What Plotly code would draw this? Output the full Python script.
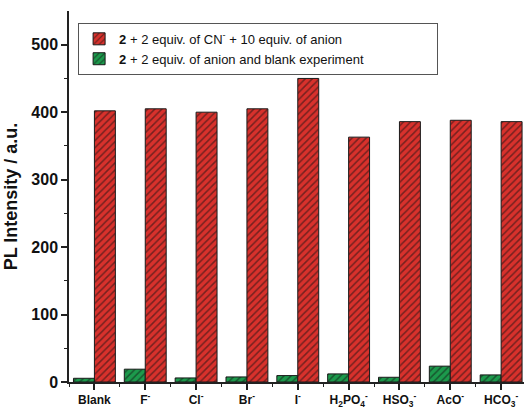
import plotly.graph_objects as go

# Anion labels along the x axis
anions = ["Blank", "F<sup>-</sup>", "Cl<sup>-</sup>", "Br<sup>-</sup>", "I<sup>-</sup>",
          "H<sub>2</sub>PO<sub>4</sub><sup>-</sup>", "HSO<sub>3</sub><sup>-</sup>",
          "AcO<sup>-</sup>", "HCO<sub>3</sub><sup>-</sup>"]

# PL intensity (a.u.)
anion_only = [5.5, 19, 6, 7.5, 9.5, 12, 7, 23.5, 10.5]
cn_plus_anion = [402, 405, 400, 405, 450, 363, 386, 388, 386]

y_ticks = [0, 100, 200, 300, 400, 500]

xpos = list(range(len(anions)))

RED = "#d8312c"
GREEN = "#1c9a4c"

fig = go.Figure()
fig.add_trace(go.Bar(
    x=xpos, y=anion_only,
    name="<b>2</b> + 2 equiv. of anion and blank experiment",
    marker=dict(color=GREEN, line=dict(color="#1a1a1a", width=1),
                pattern=dict(shape="/", fgcolor="#111111", bgcolor=GREEN,
                             size=5, solidity=0.3, fillmode="overlay")),
))
fig.add_trace(go.Bar(
    x=xpos, y=cn_plus_anion,
    name="<b>2</b> + 2 equiv. of CN<sup>-</sup> + 10 equiv. of anion",
    marker=dict(color=RED, line=dict(color="#1a1a1a", width=1),
                pattern=dict(shape="/", fgcolor="#111111", bgcolor=RED,
                             size=5, solidity=0.3, fillmode="overlay")),
))

fig.update_layout(
    width=524, height=410,
    margin=dict(l=69, r=0, t=11, b=28),
    paper_bgcolor="white", plot_bgcolor="white",
    barmode="group", bargap=0.176, bargroupgap=0,
    font=dict(family="Liberation Sans, Arial, sans-serif", color="#111111"),
    legend=dict(
        x=0.02, y=0.968, xanchor="left", yanchor="top",
        orientation="h", traceorder="reversed",
        entrywidth=313, entrywidthmode="pixels",
        bordercolor="#555555", borderwidth=1, bgcolor="white",
        font=dict(size=13, color="#111111"),
        itemwidth=30,
    ),
    xaxis=dict(
        range=[-0.5, 8.45],
        tickmode="array", tickvals=xpos, ticktext=[f"<b>{a}</b>" for a in anions],
        tickfont=dict(size=12, color="#111111"),
        ticks="outside", ticklen=6, tickwidth=1.5, tickcolor="#222222",
        minor=dict(tickmode="array", tickvals=[i - 0.5 for i in xpos] + [8.5],
                   ticks="outside", ticklen=3, tickwidth=1.2, tickcolor="#222222"),
        showline=True, linecolor="#222222", linewidth=1.5,
        showgrid=False, zeroline=False,
    ),
    yaxis=dict(
        range=[0, 550],
        tickmode="array", tickvals=y_ticks, ticktext=[f"<b>{v}</b>" for v in y_ticks],
        tickfont=dict(size=16, color="#111111"),
        ticks="outside", ticklen=6, tickwidth=1.5, tickcolor="#222222",
        minor=dict(tickmode="array", tickvals=[50, 150, 250, 350, 450],
                   ticks="outside", ticklen=3, tickwidth=1.2, tickcolor="#222222"),
        showline=True, linecolor="#222222", linewidth=1.5,
        showgrid=False, zeroline=False,
        title=dict(text="<b>PL Intensity / a.u.</b>", font=dict(size=18, color="#111111"),
                   standoff=9),
    ),
)

fig.write_html("out.html")
